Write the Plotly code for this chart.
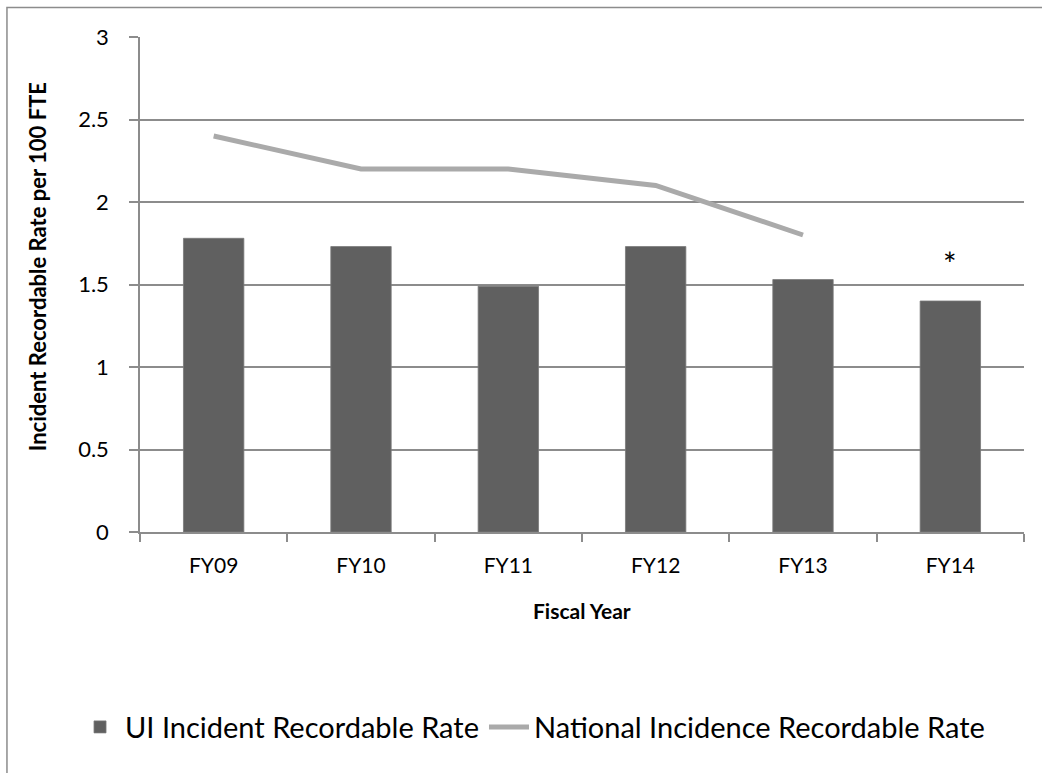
import plotly.graph_objects as go

# Fiscal years on the category axis
fiscal_years = ["FY09", "FY10", "FY11", "FY12", "FY13", "FY14"]

# UI incident recordable rate per 100 FTE
ui_rate = [1.78, 1.73, 1.49, 1.73, 1.53, 1.40]

# National incidence recordable rate (no figure yet for FY14)
national_rate = [2.4, 2.2, 2.2, 2.1, 1.8, None]

# Footnote marker shown above the FY14 bar
note_year = "FY14"
note_text = "*"
note_y = 1.63

y_ticks = [0, 0.5, 1, 1.5, 2, 2.5, 3]
y_tick_text = ["0", "0.5", "1", "1.5", "2", "2.5", "3"]

x_title = "Fiscal Year"
y_title = "Incident Recordable Rate per 100 FTE"

FONT = "Lato, 'Open Sans', sans-serif"
GRID = "#8c8c8c"

fig = go.Figure()
fig.add_trace(go.Bar(
    x=fiscal_years,
    y=ui_rate,
    name="UI Incident Recordable Rate",
    marker=dict(color="#606060", line=dict(color="#7a7a7a", width=0.8)),
))
fig.add_trace(go.Scatter(
    x=fiscal_years,
    y=national_rate,
    name="National Incidence Recordable Rate",
    mode="lines",
    line=dict(color="#aaaaaa", width=5),
    connectgaps=False,
))

fig.add_annotation(
    x=note_year, y=note_y, text=note_text, showarrow=False,
    font=dict(family=FONT, size=32, color="#000000"),
)

# Axis titles placed as free annotations
fig.add_annotation(
    xref="paper", yref="paper", x=0.5, y=-0.158,
    xanchor="center", yanchor="middle",
    text=f"<b>{x_title}</b>", showarrow=False,
    font=dict(family=FONT, size=21, color="#000000"),
)
fig.add_annotation(
    xref="paper", yref="paper", x=-0.1165, y=0.535,
    xanchor="center", yanchor="middle",
    text=f"<b>{y_title}</b>", showarrow=False, textangle=-90,
    font=dict(family=FONT, size=22, color="#000000"),
)

# Outer chart-area frame (runs off the right and bottom edges)
fig.add_shape(
    type="rect", xref="paper", yref="paper",
    x0=-0.1505, x1=1.5, y0=1.0596, y1=-1.0,
    line=dict(color="#8c8c8c", width=1.5), layer="below",
)

fig.update_layout(
    width=1042,
    height=773,
    margin=dict(l=140, r=18, t=37, b=241),
    paper_bgcolor="white",
    plot_bgcolor="white",
    bargap=0.59,
    font=dict(family=FONT, color="#000000"),
    showlegend=True,
    legend=dict(
        orientation="h",
        x=-0.0735, xanchor="left",
        y=-0.394, yanchor="middle",
        font=dict(family=FONT, size=29, color="#000000"),
        itemwidth=40,
        traceorder="normal",
    ),
    xaxis=dict(
        type="category",
        showgrid=False,
        showline=True,
        linecolor=GRID,
        linewidth=1.5,
        ticks="outside",
        tickson="boundaries",
        ticklen=8,
        tickcolor=GRID,
        tickwidth=1.5,
        ticklabelstandoff=14,
        tickfont=dict(family=FONT, size=21),
    ),
    yaxis=dict(
        range=[0, 3],
        tickvals=y_ticks,
        ticktext=y_tick_text,
        showgrid=True,
        gridcolor=GRID,
        gridwidth=1.5,
        showline=True,
        linecolor=GRID,
        linewidth=1.5,
        ticks="outside",
        ticklen=9,
        tickcolor=GRID,
        tickwidth=1.5,
        ticklabelstandoff=16,
        zeroline=False,
        tickfont=dict(family=FONT, size=22),
    ),
)

fig.write_html("out.html")
